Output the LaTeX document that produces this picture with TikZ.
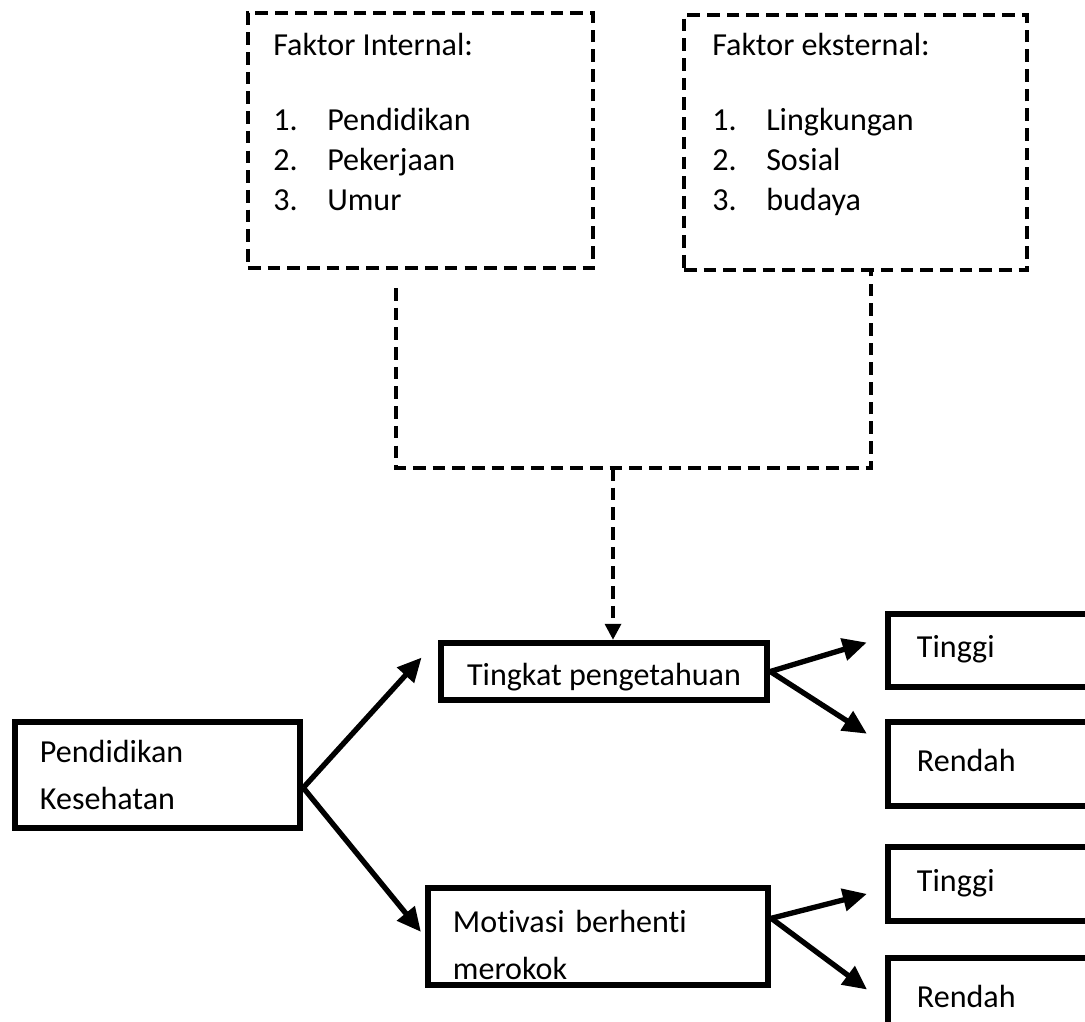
\documentclass[tikz,border=0pt]{standalone}
\usepackage{fontspec}
\setmainfont{Carlito}[Ligatures=NoCommon]
\usetikzlibrary{arrows.meta}

\begin{document}
\begin{tikzpicture}
[
 x=0.025cm, y=-0.025cm,
 every node/.style ={font=\fontsize{22.8}{28.45}\selectfont},
 inner sep=0mm,
 DASHBOX/.style={rectangle, draw=black, line width=2.4pt, dash pattern=on 9pt off 5pt},
 DASHLINE/.style={draw=black, line width=2.4pt, dash pattern=on 9pt off 5pt},
 DASHARR/.style={DASHLINE, -{Triangle[length=0.4cm, width=0.4cm]}},
 BOX/.style={rectangle, draw=black, line width=4.6pt, align=left},
 LBOX/.style={BOX, minimum width=7.5cm, text width=6.05cm, inner xsep=0.725cm, text height=0.55cm, text depth=0.2cm, minimum height=#1},
 ARR/.style={line width=3.8pt, -{Triangle[length=0.6cm, width=0.55cm]}},
 LIST/.style={anchor=north west, align=left},
 ]
\clip (0,0) rectangle (1085,1021);
%
\node [DASHBOX, minimum width=8.625cm, minimum height=6.375cm] (intbox) at (420.5,140.5) {};
\node [DASHBOX, minimum width=8.575cm, minimum height=6.375cm] (extbox) at (855.5,142.5) {};
%
\node [LIST] (inttext) at (273,32.5) {Faktor Internal:\\[0.875cm]
  \makebox[1.35cm][l]{1.}Pendidikan\\
  \makebox[1.35cm][l]{2.}Pekerjaan\\
  \makebox[1.35cm][l]{3.}Umur};
\node [LIST] (exttext) at (712,32.5) {Faktor eksternal:\\[0.875cm]
  \makebox[1.35cm][l]{1.}Lingkungan\\
  \makebox[1.35cm][l]{2.}Sosial\\
  \makebox[1.35cm][l]{3.}budaya};
%
\coordinate (uleft)   at (396,288);
\coordinate (ubottom) at (396,468);
\coordinate (uright)  at (871,468);
\coordinate (uarrow)  at (613,468);
%
\node [BOX, minimum width=7.125cm, minimum height=2.65cm, text width=5.875cm, inner xsep=0.625cm] (pend) at (157.5,775) {Pendidikan\\[0.175cm]Kesehatan};
\node [BOX, minimum width=8.15cm, minimum height=1.425cm, text height=0.875cm, text depth=0.2cm] (tingkat) at (604,671.5) {Tingkat pengetahuan};
\node [BOX, minimum width=8.5cm, minimum height=2.425cm, text width=7.25cm, inner xsep=0.625cm] (motiv) at (598,936.5) {\rule{0pt}{1cm}Motivasi berhenti\\[0.175cm]merokok};
%
\node [LBOX=1.825cm] (tinggiA) at (1038,650.5) {Tinggi};
\node [LBOX=2.1cm]   (rendahA) at (1038,764)   {Rendah};
\node [LBOX=1.85cm]  (tinggiB) at (1038,884)   {Tinggi};
\node [LBOX=2.1cm]   (rendahB) at (1038,1000)  {Rendah};
%
\draw [DASHLINE]  (uleft) -- (ubottom) -- (uright) -- (uright |- extbox.south) ;
\draw [DASHARR]   (uarrow) -- (uarrow |- tingkat.north) ;
%
\draw [ARR, shorten >=0.6cm]   (pend.-5) -- (tingkat.north west) ;
\draw [ARR, shorten >=0.15cm]  (pend.-5) -- (motiv.west) ;
%
\draw [ARR, shorten >=0.47cm]  (tingkat.east) -- (tinggiA.175) ;
\draw [ARR, shorten >=0.53cm]  (tingkat.east) -- (rendahA.173) ;
%
\draw [ARR, shorten >=0.46cm]  (motiv.6) -- (tinggiB.182) ;
\draw [ARR, shorten >=0.55cm]  (motiv.6) -- (rendahB.181) ;
\end{tikzpicture}
\end{document}
